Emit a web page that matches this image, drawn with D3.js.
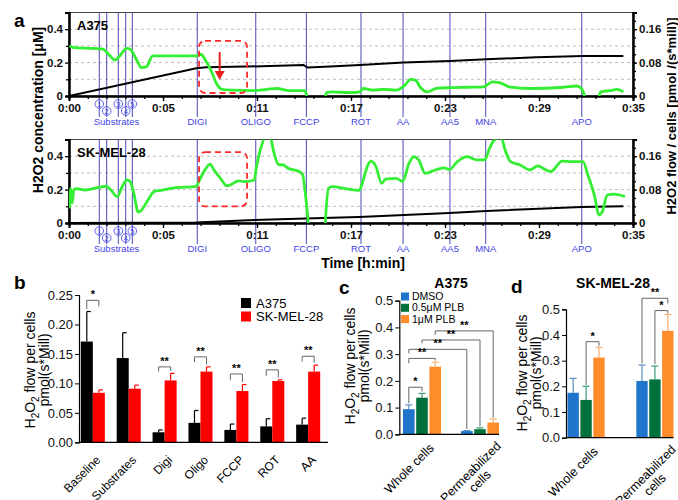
<!DOCTYPE html>
<html>
<head>
<meta charset="utf-8">
<script src="https://cdn.jsdelivr.net/npm/d3@7"></script>
<style>
  body { margin: 0; background: #fff; }
  svg { font-family: "Liberation Sans", Arial, sans-serif; }
</style>
</head>
<body>
<div id="chart"></div>
<script>
// ---------- panel a data ----------
const tickMinutes = [0, 5.833, 11.667, 17.5, 23.333, 29.167, 35];
const tickLabels = ['0:00', '0:05', '0:11', '0:17', '0:23', '0:29', '0:35'];
const eventTimes = [1.88, 2.34, 3.06, 3.52, 3.93, 7.96, 11.59, 14.73, 18.12, 20.73, 23.64, 25.86, 31.82];
const eventLabels = ['1', '2', '3', '4', '5', 'DIGI', 'OLIGO', 'FCCP', 'ROT', 'AA', 'AA5', 'MNA', 'APO'];

// green = H2O2 flow / cells [pmol/(s*mill)], black = H2O2 concentration [µM]
const flowA375 = [[0.02,0.120],[0.3,0.116],[1.5,0.114],[2.1,0.112],[2.5,0.098],[2.85,0.086],[3.1,0.094],
  [3.6,0.114],[3.8,0.112],[4.2,0.086],[4.5,0.068],[4.8,0.070],[5.2,0.096],[5.65,0.096],[7.9,0.096],
  [8.2,0.100],[8.4,0.090],[8.85,0.058],[9.15,0.030],[9.5,0.016],[10.2,0.014],[11.4,0.013],[12.3,0.016],
  [12.9,0.018],[13.7,0.013],[14.65,0.013],[14.75,0],[15.3,null],[15.9,0],[16.0,0.008],[16.3,0.010],
  [17.4,0.008],[18.05,0.010],[18.25,0.018],[18.9,0.014],[19.5,0.016],[20.3,0.014],[20.85,0.026],
  [21.2,0.040],[21.5,0.038],[21.8,0.021],[22.2,0.010],[22.8,0.018],[23.65,0.020],[24.7,0.021],
  [25.7,0.022],[26.3,0.034],[26.7,0.032],[27.4,0.021],[28.6,0.018],[30.7,0.021],[31.5,0.024],
  [31.8,0.018],[32.0,0],[32.5,null],[32.9,0],[33.0,0.010],[33.6,0.013],[34.0,0.016],[34.4,0.010]];
const concA375 = [[0,0],[7.9,0.166],[8.5,0.172],[11,0.176],[14.55,0.186],[14.8,0.170],[16.2,0.176],
  [18.05,0.186],[20.75,0.200],[23.65,0.210],[25.9,0.220],[29,0.232],[31.9,0.240],[34.4,0.240]];

const flowSK = [[0.04,0.035],[0.1,0.083],[0.2,0.048],[0.3,0.080],[0.5,0.082],[1.0,0.079],[1.9,0.086],
  [2.3,0.088],[2.6,0.079],[3.0,0.063],[3.3,0.087],[3.6,0.103],[3.8,0.099],[4.0,0.075],[4.3,0.026],
  [4.5,0.031],[4.9,0.055],[5.3,0.076],[5.7,0.078],[6.5,0.084],[7.9,0.088],[8.1,0.103],[8.5,0.131],
  [8.75,0.141],[9.0,0.127],[9.4,0.107],[9.8,0.089],[10.1,0.093],[10.5,0.101],[10.9,0.099],[11.5,0.103],
  [11.6,0.127],[11.9,0.179],[12.2,0.206],[12.5,0.204],[12.7,0.171],[13.0,0.140],[13.3,0.139],
  [13.6,0.131],[14.3,0.123],[14.5,0.116],[14.65,0.076],[14.85,0],[15.3,null],[15.9,0],[16.1,0.083],
  [16.35,0.087],[17.2,0.082],[18.0,0.078],[18.25,0.102],[18.55,0.139],[18.75,0.148],[19.05,0.135],
  [19.4,0.095],[19.65,0.105],[20.3,0.107],[20.7,0.100],[21.1,0.143],[21.4,0.159],[21.7,0.151],
  [22.1,0.119],[22.8,0.128],[23.3,0.132],[23.6,0.128],[24.1,0.147],[24.7,0.159],[25.3,0.151],
  [25.8,0.151],[26.1,0.179],[26.4,0.199],[26.8,0.205],[27.1,0.171],[27.4,0.147],[28.0,0.139],
  [28.6,0.127],[29.1,0.137],[29.5,0.129],[29.9,0.123],[30.6,0.148],[31.2,0.147],[31.9,0.147],
  [32.2,0.115],[32.6,0.067],[32.9,0.019],[33.1,0.027],[33.4,0.067],[33.8,0.069],[34.5,0.063]];
const concSK = [[0,0],[7.9,0.003],[11.5,0.018],[16.3,0.032],[18,0.036],[23.6,0.060],[25.9,0.072],
  [31.8,0.096],[34.4,0.100]];

// ---------- panel b data ----------
const bCats = ['Baseline', 'Substrates', 'Digi', 'Oligo', 'FCCP', 'ROT', 'AA'];
const bA375 = [0.171, 0.143, 0.017, 0.033, 0.021, 0.027, 0.030];
const bA375Err = [0.051, 0.043, 0.004, 0.021, 0.010, 0.013, 0.011];
const bSK = [0.084, 0.091, 0.105, 0.120, 0.087, 0.104, 0.120];
const bSKErr = [0.005, 0.006, 0.012, 0.008, 0.011, 0.002, 0.011];
const bSig = ['*', '', '**', '**', '**', '**', '**'];
const bSigY = [0.241, null, 0.128, 0.145, 0.116, 0.123, 0.146];
const bSigLeft = [0.226, null, 0.120, 0.136, 0.106, 0.113, 0.137];
const bSigRight = [0.231, null, 0.121, 0.132, 0.102, 0.110, 0.135];

// ---------- panels c, d data ----------
const groups = ['Whole cells', 'Permeabilized cells'];
const treatments = ['DMSO', '0.5μM PLB', '1μM PLB'];
const cDMSO = [0.094, 0.012], cDMSOErr = [0.016, 0.002];
const cPLB05 = [0.137, 0.019], cPLB05Err = [0.016, 0.005];
const cPLB1 = [0.253, 0.044], cPLB1Err = [0.017, 0.013];
const dDMSO = [0.175, 0.221], dDMSOErr = [0.056, 0.062];
const dPLB05 = [0.147, 0.227], dPLB05Err = [0.053, 0.052];
const dPLB1 = [0.312, 0.416], dPLB1Err = [0.040, 0.064];
// brackets: [groupA, treatA, groupB, treatB, y, leftLegEnd, rightLegEnd, label]
const cBrackets = [
  [0, 2, 1, 2, 0.387, 0.372, 0.062, '**'],
  [0, 1, 1, 1, 0.353, 0.340, 0.030, '**'],
  [0, 0, 1, 0, 0.318, 0.303, 0.020, '**'],
  [0, 0, 0, 2, 0.284, 0.266, 0.276, '**'],
  [0, 0, 0, 1, 0.176, 0.116, 0.160, '*']
];
const dBrackets = [
  [0, 1, 0, 2, 0.374, 0.205, 0.357, '*'],
  [1, 1, 1, 2, 0.495, 0.287, 0.484, '*'],
  [1, 0, 1, 2, 0.543, 0.290, 0.523, '**']
];

const treatColors = ['#1f75cc', '#00703c', '#ff8c2a'];
const errColors = ['#5b8fc6', '#3a9a70', '#ffab6a'];
const green = '#33ee33', evColor = '#4a4ab8', evText = '#3f3fe6';

const svg = d3.select('#chart').append('svg').attr('width', 678).attr('height', 500);

// ================= panel a =================
const xT = d3.scaleLinear().domain([0, 35]).range([69, 633]);

function tracePanel(top, bottom, name, flow, conc, box, arrow, id) {
  const yL = d3.scaleLinear().domain([0, 0.5]).range([bottom, top]);
  const yR = d3.scaleLinear().domain([0, 0.2]).range([bottom, top]);
  const g = svg.append('g');

  g.selectAll('line.grid').data([0.1, 0.2, 0.3, 0.4]).join('line')
    .attr('x1', xT(0)).attr('x2', xT(35)).attr('y1', d => yL(d)).attr('y2', d => yL(d))
    .attr('stroke', '#bdbdbd').attr('stroke-dasharray', '3,3');

  g.append('rect').attr('x', xT(0)).attr('y', top).attr('width', xT(35) - xT(0)).attr('height', bottom - top)
    .attr('fill', 'none').attr('stroke', '#444').attr('stroke-width', 1);

  // event lines
  g.selectAll('line.ev').data(eventTimes).join('line')
    .attr('x1', d => xT(d)).attr('x2', d => xT(d)).attr('y1', top).attr('y2', bottom + 21)
    .attr('stroke', evColor).attr('stroke-width', 1);

  // axes
  const ax = (gen, tx, ty) => {
    const a = g.append('g').attr('transform', `translate(${tx},${ty})`).call(gen);
    a.select('.domain').attr('stroke', '#000').attr('stroke-width', 2);
    a.selectAll('text').attr('font-size', 11.5).attr('font-weight', 'bold').attr('fill', '#111');
    a.selectAll('.tick line').attr('stroke-width', 1.3);
    return a;
  };
  ax(d3.axisBottom(xT).tickValues(d3.range(0, 35.01, 35 / 30)).tickSize(3).tickFormat(''), 0, bottom);
  ax(d3.axisBottom(xT).tickValues(tickMinutes).tickSize(5).tickPadding(3)
    .tickFormat((d, i) => tickLabels[i]), 0, bottom);
  ax(d3.axisLeft(yL).tickValues([0.1, 0.3]).tickSize(3).tickFormat(''), xT(0), 0);
  ax(d3.axisLeft(yL).tickValues([0, 0.2, 0.4]).tickSize(4).tickPadding(2)
    .tickFormat(d => d === 0 ? '0' : d3.format('.1f')(d)), xT(0), 0);
  ax(d3.axisRight(yR).tickValues(d3.range(0, 0.201, 0.02)).tickSize(3).tickFormat(''), xT(35), 0);
  ax(d3.axisRight(yR).tickValues([0, 0.08, 0.16]).tickSize(4).tickPadding(2)
    .tickFormat(d => d === 0 ? '0' : d3.format('.2f')(d)), xT(35), 0);

  // event labels: circled substrate numbers, then named injections
  const lab = g.append('g').attr('fill', evText).attr('text-anchor', 'middle');
  eventTimes.forEach((t, i) => {
    if (i < 5) {
      const cy = bottom + (i % 2 ? 15 : 8);
      lab.append('circle').attr('cx', xT(t)).attr('cy', cy).attr('r', 4.3)
        .attr('fill', 'none').attr('stroke', evText).attr('stroke-width', 0.8);
      lab.append('text').attr('x', xT(t)).attr('y', cy + 2.6).attr('font-size', 7.5).text(eventLabels[i]);
    } else {
      lab.append('text').attr('x', xT(t)).attr('y', bottom + 29).attr('font-size', 9.5).text(eventLabels[i]);
    }
  });
  lab.append('text').attr('x', xT(d3.mean(eventTimes.slice(0, 5)))).attr('y', bottom + 29)
    .attr('font-size', 9.5).text('Substrates');

  // traces
  g.append('clipPath').attr('id', id).append('rect')
    .attr('x', xT(0)).attr('y', top).attr('width', xT(35) - xT(0)).attr('height', bottom - top);
  const lg = g.append('g').attr('clip-path', `url(#${id})`);
  lg.append('path').datum(conc).attr('fill', 'none').attr('stroke', '#000').attr('stroke-width', 2)
    .attr('d', d3.line().x(d => xT(d[0])).y(d => yL(d[1])));
  lg.append('path').datum(flow).attr('fill', 'none').attr('stroke', green).attr('stroke-width', 2.8)
    .attr('d', d3.line().defined(d => d[1] !== null).curve(d3.curveMonotoneX)
      .x(d => xT(d[0])).y(d => yR(d[1])));

  // dashed highlight box
  g.append('rect').attr('x', xT(box[0])).attr('y', yL(box[3]))
    .attr('width', xT(box[1]) - xT(box[0])).attr('height', yL(box[2]) - yL(box[3]))
    .attr('rx', 6).attr('fill', 'none').attr('stroke', '#ff2a2a').attr('stroke-width', 1.8)
    .attr('stroke-dasharray', '6,4');
  if (arrow) {
    const ax0 = xT(arrow[0]), ya = yL(arrow[1]), yb = yL(arrow[2]);
    g.append('line').attr('x1', ax0).attr('x2', ax0).attr('y1', ya).attr('y2', yb - 8)
      .attr('stroke', '#e82020').attr('stroke-width', 2);
    g.append('path').attr('d', `M${ax0 - 5},${yb - 9}L${ax0 + 5},${yb - 9}L${ax0},${yb}Z`).attr('fill', '#e82020');
  }

  g.append('text').attr('x', 77).attr('y', top + 17).attr('font-size', 13).attr('font-weight', 'bold').text(name);
}

tracePanel(12.5, 96, 'A375', flowA375, concA375, [8.07, 11.05, 0.018, 0.33], [9.35, 0.263, 0.096], 'clipA');
tracePanel(139.5, 223, 'SK-MEL-28', flowSK, concSK, [8.07, 11.05, 0.10, 0.425], null, 'clipB');

svg.append('text').attr('transform', 'translate(42.5,110) rotate(-90)').attr('text-anchor', 'middle')
  .attr('font-size', 14).attr('font-weight', 'bold').text('H2O2 concentration [μM]');
svg.append('text').attr('transform', 'translate(676,116) rotate(-90)').attr('text-anchor', 'middle')
  .attr('font-size', 13).attr('font-weight', 'bold').text('H2O2 flow / cells [pmol /(s*mill)]');
svg.append('text').attr('x', 363).attr('y', 268).attr('text-anchor', 'middle')
  .attr('font-size', 14).attr('font-weight', 'bold').text('Time [h:min]');

// panel letters
[['a', 14, 27], ['b', 14, 289], ['c', 339, 294], ['d', 511, 293]].forEach(([t, x, y]) =>
  svg.append('text').attr('x', x).attr('y', y).attr('font-size', 19).attr('font-weight', 'bold').text(t));

// ================= helpers for bar panels =================
function flowLabel(x, y) {
  const g = svg.append('g').attr('transform', `translate(${x},${y}) rotate(-90)`)
    .attr('text-anchor', 'middle').attr('font-size', 14);
  const t = g.append('text');
  t.append('tspan').text('H');
  t.append('tspan').attr('font-size', 10).attr('dy', 4).text('2');
  t.append('tspan').attr('dy', -4).text('O');
  t.append('tspan').attr('font-size', 10).attr('dy', 4).text('2');
  t.append('tspan').attr('dy', -4).text(' flow per cells');
  g.append('text').attr('y', 14).text('pmol(s*Mill)');
}

function barAxes(g, y, x0, x1, ticks, fmt) {
  const a = g.append('g').attr('transform', `translate(${x0},0)`)
    .call(d3.axisLeft(y).tickValues(ticks).tickFormat(fmt).tickSize(4).tickPadding(2));
  a.selectAll('text').attr('font-size', 13).attr('fill', '#111');
  a.select('.domain').attr('stroke-width', 1.2);
  g.append('line').attr('x1', x0).attr('x2', x1).attr('y1', y(0)).attr('y2', y(0))
    .attr('stroke', '#000').attr('stroke-width', 1.2);
}

function drawBracket(g, xa, xb, yTop, ya, yb, label) {
  g.append('path').attr('d', `M${xa},${ya}V${yTop}H${xb}V${yb}`)
    .attr('fill', 'none').attr('stroke', '#666').attr('stroke-width', 1);
  g.append('text').attr('x', (xa + xb) / 2).attr('y', yTop - 2).attr('text-anchor', 'middle')
    .attr('font-size', 11).attr('font-weight', 'bold').text(label);
}

function rotLabel(g, x, y, lines, size) {
  const t = g.append('g').attr('transform', `translate(${x},${y}) rotate(-45)`).attr('font-size', size);
  const first = t.append('text').attr('text-anchor', 'end').attr('dy', '0.75em').text(lines[0]);
  if (lines[1]) {
    const w = first.node().getComputedTextLength();
    t.append('text').attr('text-anchor', 'middle').attr('x', -w / 2).attr('dy', '1.8em').text(lines[1]);
  }
}

// ================= panel b =================
{
  const g = svg.append('g');
  const x = d3.scaleBand().domain(bCats).range([79, 322]).paddingInner(0.33).paddingOuter(0.05);
  const y = d3.scaleLinear().domain([0, 0.25]).range([442.3, 295]);
  const bw = x.bandwidth() / 2;
  const series = [[bA375, bA375Err, '#000', 0], [bSK, bSKErr, '#ff0000', 1]];
  series.forEach(([vals, errs, col, k]) => {
    g.selectAll(null).data(bCats).join('line')
      .attr('x1', d => x(d) + bw * k + bw / 2).attr('x2', d => x(d) + bw * k + bw / 2)
      .attr('y1', (d, i) => y(vals[i])).attr('y2', (d, i) => y(vals[i] + errs[i]))
      .attr('stroke', col).attr('stroke-width', 1.2);
    g.selectAll(null).data(bCats).join('line')
      .attr('x1', d => x(d) + bw * k + bw / 2).attr('x2', d => x(d) + bw * k + bw / 2 + 4)
      .attr('y1', (d, i) => y(vals[i] + errs[i])).attr('y2', (d, i) => y(vals[i] + errs[i]))
      .attr('stroke', col).attr('stroke-width', 1.2);
    g.selectAll(null).data(bCats).join('rect')
      .attr('x', d => x(d) + bw * k).attr('width', bw)
      .attr('y', (d, i) => y(vals[i])).attr('height', (d, i) => y(0) - y(vals[i]))
      .attr('fill', col);
  });
  barAxes(g, y, 79, 328, [0, 0.05, 0.1, 0.15, 0.2, 0.25], d3.format('.2f'));
  bCats.forEach((c, i) => {
    if (bSig[i]) drawBracket(g, x(c) + bw / 2, x(c) + bw * 1.5, y(bSigY[i]), y(bSigLeft[i]), y(bSigRight[i]), bSig[i]);
    rotLabel(g, x(c) + bw + 2, y(0) + 12, [c], 12);
  });
  [['A375', '#000'], ['SK-MEL-28', '#ff0000']].forEach(([t, col], i) => {
    g.append('rect').attr('x', 241).attr('y', 298 + i * 13.5).attr('width', 10).attr('height', 10).attr('fill', col);
    g.append('text').attr('x', 256).attr('y', 307.5 + i * 13.5).attr('font-size', 13).text(t);
  });
  flowLabel(35, 370);
}

// ================= panels c, d =================
function groupPanel(cfg) {
  const g = svg.append('g');
  const x = d3.scaleBand().domain(groups).range(cfg.xr).paddingInner(cfg.pad);
  const xi = d3.scaleBand().domain(treatments).range([0, x.bandwidth()]).paddingInner(0.12);
  const y = d3.scaleLinear().domain([0, 0.5]).range(cfg.yr);
  const cx = (gi, ti) => x(groups[gi]) + xi(treatments[ti]) + xi.bandwidth() / 2;
  cfg.means.forEach((vals, ti) => {
    const errs = cfg.errs[ti];
    g.selectAll(null).data(groups).join('line')
      .attr('x1', (d, gi) => cx(gi, ti)).attr('x2', (d, gi) => cx(gi, ti))
      .attr('y1', (d, gi) => y(vals[gi])).attr('y2', (d, gi) => y(vals[gi] + errs[gi]))
      .attr('stroke', errColors[ti]).attr('stroke-width', 1.2);
    g.selectAll(null).data(groups).join('line')
      .attr('x1', (d, gi) => cx(gi, ti) - 3.5).attr('x2', (d, gi) => cx(gi, ti) + 3.5)
      .attr('y1', (d, gi) => y(vals[gi] + errs[gi])).attr('y2', (d, gi) => y(vals[gi] + errs[gi]))
      .attr('stroke', errColors[ti]).attr('stroke-width', 1.2);
    g.selectAll(null).data(groups).join('rect')
      .attr('x', d => x(d) + xi(treatments[ti])).attr('width', xi.bandwidth())
      .attr('y', (d, gi) => y(vals[gi])).attr('height', (d, gi) => y(0) - y(vals[gi]))
      .attr('fill', treatColors[ti]);
  });
  barAxes(g, y, cfg.axisX, cfg.xr[1], [0, 0.1, 0.2, 0.3, 0.4, 0.5], d3.format('.1f'));
  cfg.brackets.forEach(b => drawBracket(g, cx(b[0], b[1]), cx(b[2], b[3]), y(b[4]), y(b[5]), y(b[6]), b[7]));
  rotLabel(g, x(groups[0]) + x.bandwidth() / 2 + 6, y(0) + 8, ['Whole cells'], 12.5);
  rotLabel(g, x(groups[1]) + x.bandwidth() / 2 + 15, y(0) + 6, ['Permeabilized', 'cells'], 12.5);
  g.append('text').attr('x', cfg.titleX).attr('y', 288).attr('text-anchor', 'middle')
    .attr('font-size', 14).attr('font-weight', 'bold').text(cfg.title);
  flowLabel(cfg.labelX, cfg.labelY);
  return g;
}

const gc = groupPanel({
  xr: [403, 499], pad: 0.345, axisX: 399.3, yr: [434.3, 300.7], means: [cDMSO, cPLB05, cPLB1],
  errs: [cDMSOErr, cPLB05Err, cPLB1Err], brackets: cBrackets, title: 'A375', titleX: 451,
  labelX: 355, labelY: 366
});
treatments.forEach((t, i) => {
  gc.append('rect').attr('x', 401).attr('y', 292.5 + i * 11.3).attr('width', 8).attr('height', 8).attr('fill', treatColors[i]);
  gc.append('text').attr('x', 412).attr('y', 300 + i * 11.3).attr('font-size', 10.5).text(t);
});

groupPanel({
  xr: [567.5, 673.5], pad: 0.46, axisX: 566, yr: [437.7, 309.3], means: [dDMSO, dPLB05, dPLB1],
  errs: [dDMSOErr, dPLB05Err, dPLB1Err], brackets: dBrackets, title: 'SK-MEL-28', titleX: 613,
  labelX: 527, labelY: 373
});
</script>
</body>
</html>
